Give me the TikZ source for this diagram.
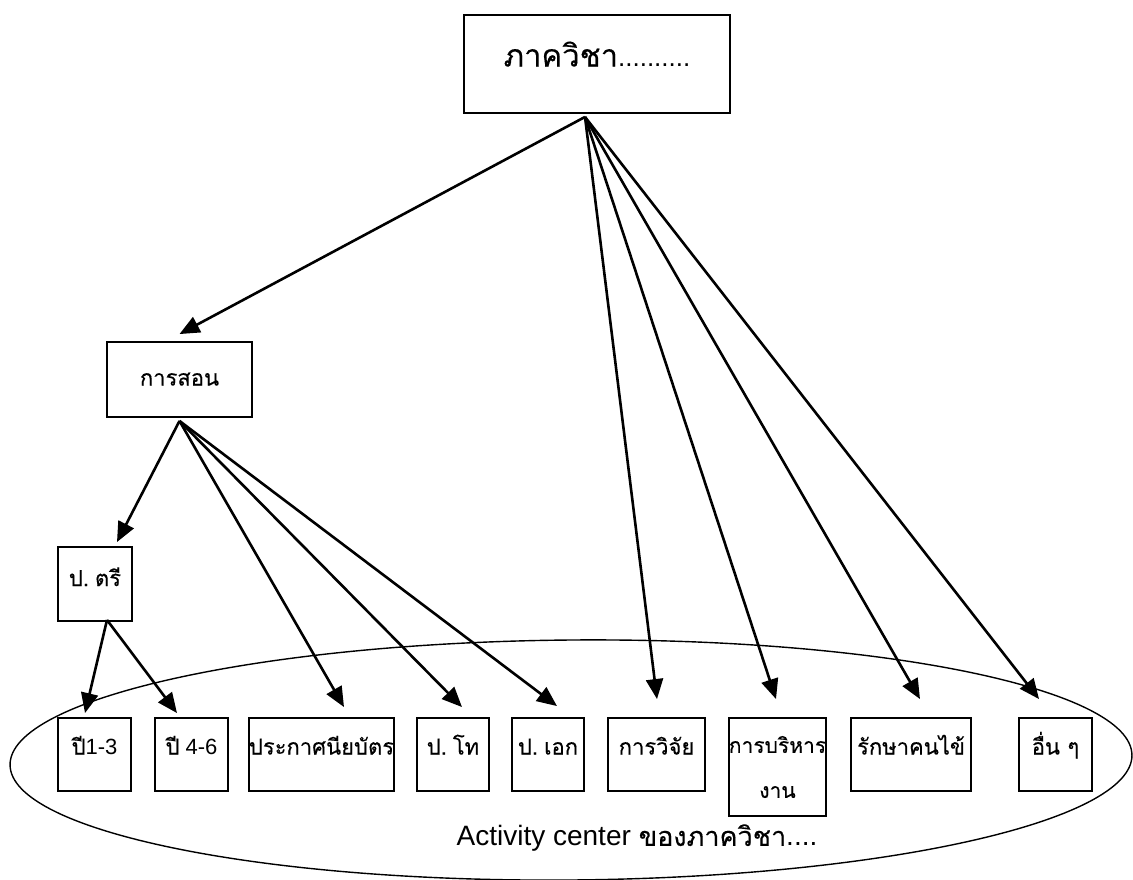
\documentclass[tikz,border=0pt]{standalone}
\usepackage{fontspec}
\setmainfont{Liberation Sans}
\newfontfamily\thaifont[Script=Thai,FakeBold=0.3]{Loma}
\newcommand\tha[1]{{\thaifont #1}}
\newcommand\thsp{\hspace{6pt}}
\usetikzlibrary{arrows.meta,shapes.geometric,calc}
\begin{document}
\begin{tikzpicture}[x=1pt,y=-1pt,
  boxbase/.style={draw, line width=1.9pt, inner sep=0pt, align=center,
    font=\fontsize{22}{26}\selectfont},
  box/.style={boxbase, text height=8pt, text depth=8pt},
  arr/.style={line width=2.6pt, -{Triangle[length=20pt,width=17pt]}},
  ring/.style={draw, ellipse, line width=1.4pt, inner sep=0pt},
]
\useasboundingbox (0,0) rectangle (1133,879);
% container ellipse
\node[ring, minimum width=1122pt, minimum height=240pt, rotate=0.5] (ac) at (571,760) {};
% boxes
\node[box, minimum width=266pt, minimum height=98pt, font=\fontsize{26}{30}\selectfont, text height=12pt, text depth=7pt] (top) at (597,64) {{\fontsize{31}{34}\selectfont\tha{ภาควิชา}}..........};
\node[box, minimum width=145pt, minimum height=75pt, text height=12pt, text depth=0pt] (teach) at (179.5,379.5) {\tha{การสอน}};
\node[box, minimum width=74pt, minimum height=74pt, text height=12pt, text depth=8pt] (tri) at (95,584) {\tha{ป.\thsp ตรี}};
\node[box, minimum width=73pt, minimum height=73pt] (b13) at (94.5,754.5) {\tha{ปี}1-3};
\node[box, minimum width=73pt, minimum height=73pt] (b46) at (191.5,754.5) {\tha{ปี} 4-6};
\node[box, minimum width=143pt, minimum height=73pt] (cert) at (321.5,754.5) {\tha{ประกาศนียบัตร}};
\node[box, minimum width=72pt, minimum height=73pt] (mas) at (453,754.5) {\tha{ป.\thsp โท}};
\node[box, minimum width=72pt, minimum height=73pt] (doc) at (548,754.5) {\tha{ป.\thsp เอก}};
\node[box, minimum width=97pt, minimum height=73pt] (res) at (656.5,754.5) {\tha{การวิจัย}};
\node[boxbase, minimum width=97pt, minimum height=98pt, font=\fontsize{21}{26}\selectfont] (adm) at (777.5,767) {\tha{การบริหาร}\\[19pt]\tha{งาน}};
\node[box, minimum width=120pt, minimum height=73pt] (pat) at (911,754.5) {\tha{รักษาคนไข้}};
\node[box, minimum width=73pt, minimum height=73pt] (oth) at (1055.5,754.5) {\tha{อื่น ๆ}};
\node[font=\fontsize{28}{30}\selectfont, inner sep=0pt] (actext) at (637,838) {Activity center {\fontsize{27}{30}\selectfont\tha{ของภาควิชา}}....};
% sources
\coordinate (s1) at ([xshift=-12pt,yshift=-3pt]top.south);
\coordinate (s2) at ([yshift=-3pt]teach.south);
\coordinate (s3) at ([xshift=12pt,yshift=2pt]tri.south);
% connectors
\draw[arr] (s1) -- ([yshift=7pt]teach.north);
\draw[arr] (s1) -- ([xshift=0.5pt,yshift=18pt]res.north);
\draw[arr] (s1) -- ([xshift=-1.5pt,yshift=18pt]adm.north);
\draw[arr] (s1) -- ([xshift=9pt,yshift=18pt]pat.north);
\draw[arr] (s1) -- ([xshift=-16.5pt,yshift=18pt]oth.north);
\draw[arr] (s2) -- ([xshift=22pt,yshift=4pt]tri.north);
\draw[arr] (s2) -- ([xshift=22.5pt,yshift=10pt]cert.north);
\draw[arr] (s2) -- ([xshift=9pt,yshift=10pt]mas.north);
\draw[arr] (s2) -- ([xshift=9pt,yshift=11pt]doc.north);
\draw[arr] (s3) -- ([xshift=-9.5pt,yshift=4pt]b13.north);
\draw[arr] (s3) -- ([xshift=-14.5pt,yshift=4pt]b46.north);
\end{tikzpicture}
\end{document}
